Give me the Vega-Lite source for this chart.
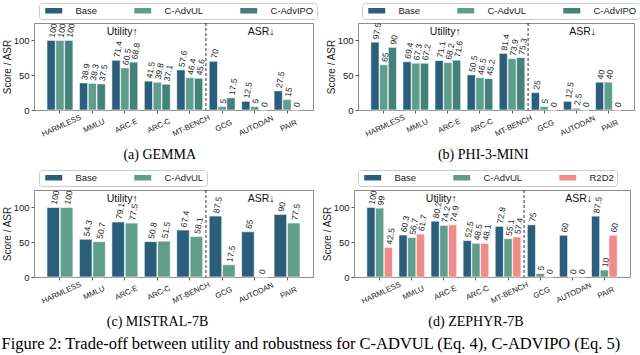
{
  "$schema": "https://vega.github.io/schema/vega-lite/v6.json",
  "padding": {"left": 1, "top": 2, "right": 0, "bottom": 0},
  "title": {"text": "Figure 2: Trade-off between utility and robustness for C-ADVUL (Eq. 4), C-ADVIPO (Eq. 5)", "orient": "bottom", "anchor": "start", "frame": "bounds", "font": "Liberation Serif", "fontSize": 16.5, "fontWeight": "normal", "color": "#000", "offset": 7},
  "datasets": {
    "gemma": [
      {"cat": "HARMLESS", "method": "Base", "v": 100}, {"cat": "HARMLESS", "method": "C-AdvUL", "v": 100}, {"cat": "HARMLESS", "method": "C-AdvIPO", "v": 100},
      {"cat": "MMLU", "method": "Base", "v": 38.9}, {"cat": "MMLU", "method": "C-AdvUL", "v": 38.3}, {"cat": "MMLU", "method": "C-AdvIPO", "v": 37.5},
      {"cat": "ARC-E", "method": "Base", "v": 71.4}, {"cat": "ARC-E", "method": "C-AdvUL", "v": 60.5}, {"cat": "ARC-E", "method": "C-AdvIPO", "v": 68.8},
      {"cat": "ARC-C", "method": "Base", "v": 41.5}, {"cat": "ARC-C", "method": "C-AdvUL", "v": 39.8}, {"cat": "ARC-C", "method": "C-AdvIPO", "v": 37.1},
      {"cat": "MT-BENCH", "method": "Base", "v": 57.6}, {"cat": "MT-BENCH", "method": "C-AdvUL", "v": 46.4}, {"cat": "MT-BENCH", "method": "C-AdvIPO", "v": 45.6},
      {"cat": "GCG", "method": "Base", "v": 70}, {"cat": "GCG", "method": "C-AdvUL", "v": 5}, {"cat": "GCG", "method": "C-AdvIPO", "v": 17.5},
      {"cat": "AUTODAN", "method": "Base", "v": 12.5}, {"cat": "AUTODAN", "method": "C-AdvUL", "v": 5}, {"cat": "AUTODAN", "method": "C-AdvIPO", "v": 0},
      {"cat": "PAIR", "method": "Base", "v": 27.5}, {"cat": "PAIR", "method": "C-AdvUL", "v": 15}, {"cat": "PAIR", "method": "C-AdvIPO", "v": 0}
    ],
    "phi": [
      {"cat": "HARMLESS", "method": "Base", "v": 97.5}, {"cat": "HARMLESS", "method": "C-AdvUL", "v": 65}, {"cat": "HARMLESS", "method": "C-AdvIPO", "v": 90},
      {"cat": "MMLU", "method": "Base", "v": 69.4}, {"cat": "MMLU", "method": "C-AdvUL", "v": 67.3}, {"cat": "MMLU", "method": "C-AdvIPO", "v": 67.2},
      {"cat": "ARC-E", "method": "Base", "v": 71.1}, {"cat": "ARC-E", "method": "C-AdvUL", "v": 68.2}, {"cat": "ARC-E", "method": "C-AdvIPO", "v": 71.6},
      {"cat": "ARC-C", "method": "Base", "v": 50.5}, {"cat": "ARC-C", "method": "C-AdvUL", "v": 46.5}, {"cat": "ARC-C", "method": "C-AdvIPO", "v": 45.2},
      {"cat": "MT-BENCH", "method": "Base", "v": 81.4}, {"cat": "MT-BENCH", "method": "C-AdvUL", "v": 73.9}, {"cat": "MT-BENCH", "method": "C-AdvIPO", "v": 75.3},
      {"cat": "GCG", "method": "Base", "v": 25}, {"cat": "GCG", "method": "C-AdvUL", "v": 5}, {"cat": "GCG", "method": "C-AdvIPO", "v": 0},
      {"cat": "AUTODAN", "method": "Base", "v": 12.5}, {"cat": "AUTODAN", "method": "C-AdvUL", "v": 2.5}, {"cat": "AUTODAN", "method": "C-AdvIPO", "v": 0},
      {"cat": "PAIR", "method": "Base", "v": 40}, {"cat": "PAIR", "method": "C-AdvUL", "v": 40}, {"cat": "PAIR", "method": "C-AdvIPO", "v": 0}
    ],
    "mistral": [
      {"cat": "HARMLESS", "method": "Base", "v": 100}, {"cat": "HARMLESS", "method": "C-AdvUL", "v": 100},
      {"cat": "MMLU", "method": "Base", "v": 54.3}, {"cat": "MMLU", "method": "C-AdvUL", "v": 50.7},
      {"cat": "ARC-E", "method": "Base", "v": 79.1}, {"cat": "ARC-E", "method": "C-AdvUL", "v": 77.5},
      {"cat": "ARC-C", "method": "Base", "v": 50.8}, {"cat": "ARC-C", "method": "C-AdvUL", "v": 51.5},
      {"cat": "MT-BENCH", "method": "Base", "v": 67.4}, {"cat": "MT-BENCH", "method": "C-AdvUL", "v": 58.1},
      {"cat": "GCG", "method": "Base", "v": 87.5}, {"cat": "GCG", "method": "C-AdvUL", "v": 17.5},
      {"cat": "AUTODAN", "method": "Base", "v": 65}, {"cat": "AUTODAN", "method": "C-AdvUL", "v": 0},
      {"cat": "PAIR", "method": "Base", "v": 90}, {"cat": "PAIR", "method": "C-AdvUL", "v": 77.5}
    ],
    "zephyr": [
      {"cat": "HARMLESS", "method": "Base", "v": 100}, {"cat": "HARMLESS", "method": "C-AdvUL", "v": 99}, {"cat": "HARMLESS", "method": "R2D2", "v": 42.5},
      {"cat": "MMLU", "method": "Base", "v": 60.3}, {"cat": "MMLU", "method": "C-AdvUL", "v": 56.7}, {"cat": "MMLU", "method": "R2D2", "v": 61.7},
      {"cat": "ARC-E", "method": "Base", "v": 80.2}, {"cat": "ARC-E", "method": "C-AdvUL", "v": 74.2}, {"cat": "ARC-E", "method": "R2D2", "v": 74.9},
      {"cat": "ARC-C", "method": "Base", "v": 52.5}, {"cat": "ARC-C", "method": "C-AdvUL", "v": 48.5}, {"cat": "ARC-C", "method": "R2D2", "v": 48.1},
      {"cat": "MT-BENCH", "method": "Base", "v": 72.8}, {"cat": "MT-BENCH", "method": "C-AdvUL", "v": 55.1}, {"cat": "MT-BENCH", "method": "R2D2", "v": 57.4},
      {"cat": "GCG", "method": "Base", "v": 75}, {"cat": "GCG", "method": "C-AdvUL", "v": 5}, {"cat": "GCG", "method": "R2D2", "v": 0},
      {"cat": "AUTODAN", "method": "Base", "v": 60}, {"cat": "AUTODAN", "method": "C-AdvUL", "v": 0}, {"cat": "AUTODAN", "method": "R2D2", "v": 0},
      {"cat": "PAIR", "method": "Base", "v": 87.5}, {"cat": "PAIR", "method": "C-AdvUL", "v": 10}, {"cat": "PAIR", "method": "R2D2", "v": 60}
    ]
  },
  "resolve": {"scale": {"color": "independent", "xOffset": "independent"}, "legend": {"color": "independent"}},
  "spacing": 6,
  "vconcat": [
    {
      "hconcat": [
        {
          "width": 279, "height": 87,
          "data": {"name": "gemma"},
          "title": {"text": "(a) GEMMA", "orient": "bottom", "anchor": "middle", "frame": "bounds", "font": "Liberation Serif", "fontSize": 14, "fontWeight": "normal", "color": "#000", "offset": 10},
          "layer": [
            {
              "mark": {"type": "bar", "stroke": "#ffffff", "strokeWidth": 0.6},
              "encoding": {
                "x": {"field": "cat", "type": "nominal", "sort": ["HARMLESS", "MMLU", "ARC-E", "ARC-C", "MT-BENCH", "GCG", "AUTODAN", "PAIR"], "title": null, "scale": {"paddingInner": 0.2, "paddingOuter": 0.4},
                  "axis": {"labelAngle": -25, "labelAlign": "center", "labelBaseline": "top", "labelFontSize": 7.7, "labelFont": "Liberation Sans", "labelColor": "#222", "tickSize": 3, "tickColor": "#555", "labelPadding": 9, "domain": false}},
                "xOffset": {"field": "method", "type": "nominal", "sort": ["Base", "C-AdvUL", "C-AdvIPO"], "scale": {"paddingInner": 0.06}},
                "y": {"field": "v", "type": "quantitative", "title": "Score / ASR", "scale": {"domain": [0, 125], "nice": false},
                  "axis": {"values": [0, 25, 50, 75, 100], "grid": false, "domain": false, "tickSize": 3, "tickColor": "#555", "labelFontSize": 9.5, "labelFont": "Liberation Sans", "labelColor": "#222", "labelPadding": 2, "titleFontSize": 10, "titleFont": "Liberation Sans", "titleFontWeight": "normal", "titleColor": "#222", "titleX": -22, "titleY": 43.5, "titleAngle": 270, "titleAlign": "center", "titleBaseline": "bottom"}},
                "color": {"field": "method", "type": "nominal", "scale": {"domain": ["Base", "C-AdvUL", "C-AdvIPO"], "range": ["#2b5e7b", "#5f9e8b", "#44817d"]},
                  "legend": {"orient": "none", "legendX": 5, "legendY": -20, "direction": "horizontal", "gridAlign": "none", "title": null, "symbolType": "M-2,-0.65H2V0.65H-2Z", "symbolSize": 72, "symbolOffset": 7, "symbolStrokeWidth": 0, "labelOffset": 17, "labelFontSize": 9.5, "labelFont": "Liberation Sans", "labelColor": "#222", "columnPadding": 33, "padding": 3, "strokeColor": "#cccccc", "fillColor": "#ffffff", "cornerRadius": 3}}
              }
            },
            {
              "mark": {"type": "text", "angle": 280, "align": "left", "baseline": "middle", "dx": 3, "fontSize": 8.5, "font": "Liberation Sans", "color": "#222"},
              "encoding": {
                "x": {"field": "cat", "type": "nominal", "sort": ["HARMLESS", "MMLU", "ARC-E", "ARC-C", "MT-BENCH", "GCG", "AUTODAN", "PAIR"]},
                "xOffset": {"field": "method", "type": "nominal", "sort": ["Base", "C-AdvUL", "C-AdvIPO"]},
                "y": {"field": "v", "type": "quantitative"},
                "text": {"field": "v", "type": "quantitative", "format": ""}
              }
            },
            {"data": {"values": [{}]}, "mark": {"type": "rule", "strokeDash": [3, 2], "color": "#333", "strokeWidth": 1}, "encoding": {"x": {"datum": "GCG", "bandPosition": -0.125}}},
            {"data": {"values": [{}]}, "mark": {"type": "text", "text": "Utility↑", "fontSize": 10.5, "font": "Liberation Sans", "color": "#111"}, "encoding": {"x": {"datum": "ARC-E", "bandPosition": 0.4}, "y": {"datum": 112}}},
            {"data": {"values": [{}]}, "mark": {"type": "text", "text": "ASR↓", "fontSize": 10.5, "font": "Liberation Sans", "color": "#111"}, "encoding": {"x": {"datum": "AUTODAN", "bandPosition": 0.75}, "y": {"datum": 112}}}
          ]
        },
        {
          "width": 276, "height": 87,
          "data": {"name": "phi"},
          "title": {"text": "(b) PHI-3-MINI", "orient": "bottom", "anchor": "middle", "frame": "bounds", "font": "Liberation Serif", "fontSize": 14, "fontWeight": "normal", "color": "#000", "offset": 10},
          "layer": [
            {
              "mark": {"type": "bar", "stroke": "#ffffff", "strokeWidth": 0.6},
              "encoding": {
                "x": {"field": "cat", "type": "nominal", "sort": ["HARMLESS", "MMLU", "ARC-E", "ARC-C", "MT-BENCH", "GCG", "AUTODAN", "PAIR"], "title": null, "scale": {"paddingInner": 0.2, "paddingOuter": 0.4},
                  "axis": {"labelAngle": -25, "labelAlign": "center", "labelBaseline": "top", "labelFontSize": 7.7, "labelFont": "Liberation Sans", "labelColor": "#222", "tickSize": 3, "tickColor": "#555", "labelPadding": 9, "domain": false}},
                "xOffset": {"field": "method", "type": "nominal", "sort": ["Base", "C-AdvUL", "C-AdvIPO"], "scale": {"paddingInner": 0.06}},
                "y": {"field": "v", "type": "quantitative", "title": "Score / ASR", "scale": {"domain": [0, 125], "nice": false},
                  "axis": {"values": [0, 25, 50, 75, 100], "grid": false, "domain": false, "tickSize": 3, "tickColor": "#555", "labelFontSize": 9.5, "labelFont": "Liberation Sans", "labelColor": "#222", "labelPadding": 2, "titleFontSize": 10, "titleFont": "Liberation Sans", "titleFontWeight": "normal", "titleColor": "#222", "titleX": -22, "titleY": 43.5, "titleAngle": 270, "titleAlign": "center", "titleBaseline": "bottom"}},
                "color": {"field": "method", "type": "nominal", "scale": {"domain": ["Base", "C-AdvUL", "C-AdvIPO"], "range": ["#2b5e7b", "#5f9e8b", "#44817d"]},
                  "legend": {"orient": "none", "legendX": 4, "legendY": -20, "direction": "horizontal", "gridAlign": "none", "title": null, "symbolType": "M-2,-0.65H2V0.65H-2Z", "symbolSize": 72, "symbolOffset": 7, "symbolStrokeWidth": 0, "labelOffset": 17, "labelFontSize": 9.5, "labelFont": "Liberation Sans", "labelColor": "#222", "columnPadding": 33, "padding": 3, "strokeColor": "#cccccc", "fillColor": "#ffffff", "cornerRadius": 3}}
              }
            },
            {
              "mark": {"type": "text", "angle": 280, "align": "left", "baseline": "middle", "dx": 3, "fontSize": 8.5, "font": "Liberation Sans", "color": "#222"},
              "encoding": {
                "x": {"field": "cat", "type": "nominal", "sort": ["HARMLESS", "MMLU", "ARC-E", "ARC-C", "MT-BENCH", "GCG", "AUTODAN", "PAIR"]},
                "xOffset": {"field": "method", "type": "nominal", "sort": ["Base", "C-AdvUL", "C-AdvIPO"]},
                "y": {"field": "v", "type": "quantitative"},
                "text": {"field": "v", "type": "quantitative", "format": ""}
              }
            },
            {"data": {"values": [{}]}, "mark": {"type": "rule", "strokeDash": [3, 2], "color": "#333", "strokeWidth": 1}, "encoding": {"x": {"datum": "GCG", "bandPosition": -0.125}}},
            {"data": {"values": [{}]}, "mark": {"type": "text", "text": "Utility↑", "fontSize": 10.5, "font": "Liberation Sans", "color": "#111"}, "encoding": {"x": {"datum": "ARC-E", "bandPosition": 0.4}, "y": {"datum": 112}}},
            {"data": {"values": [{}]}, "mark": {"type": "text", "text": "ASR↓", "fontSize": 10.5, "font": "Liberation Sans", "color": "#111"}, "encoding": {"x": {"datum": "AUTODAN", "bandPosition": 0.75}, "y": {"datum": 112}}}
          ]
        }
      ],
      "spacing": 7,
      "resolve": {"scale": {"color": "independent", "xOffset": "independent"}, "legend": {"color": "independent"}}
    },
    {
      "hconcat": [
        {
          "width": 279, "height": 87,
          "data": {"name": "mistral"},
          "title": {"text": "(c) MISTRAL-7B", "orient": "bottom", "anchor": "middle", "frame": "bounds", "font": "Liberation Serif", "fontSize": 14, "fontWeight": "normal", "color": "#000", "offset": 10},
          "layer": [
            {
              "mark": {"type": "bar", "stroke": "#ffffff", "strokeWidth": 0.6},
              "encoding": {
                "x": {"field": "cat", "type": "nominal", "sort": ["HARMLESS", "MMLU", "ARC-E", "ARC-C", "MT-BENCH", "GCG", "AUTODAN", "PAIR"], "title": null, "scale": {"paddingInner": 0.2, "paddingOuter": 0.4},
                  "axis": {"labelAngle": -25, "labelAlign": "center", "labelBaseline": "top", "labelFontSize": 7.7, "labelFont": "Liberation Sans", "labelColor": "#222", "tickSize": 3, "tickColor": "#555", "labelPadding": 9, "domain": false}},
                "xOffset": {"field": "method", "type": "nominal", "sort": ["Base", "C-AdvUL"], "scale": {"paddingInner": 0.06}},
                "y": {"field": "v", "type": "quantitative", "title": "Score / ASR", "scale": {"domain": [0, 125], "nice": false},
                  "axis": {"values": [0, 25, 50, 75, 100], "grid": false, "domain": false, "tickSize": 3, "tickColor": "#555", "labelFontSize": 9.5, "labelFont": "Liberation Sans", "labelColor": "#222", "labelPadding": 2, "titleFontSize": 10, "titleFont": "Liberation Sans", "titleFontWeight": "normal", "titleColor": "#222", "titleX": -22, "titleY": 43.5, "titleAngle": 270, "titleAlign": "center", "titleBaseline": "bottom"}},
                "color": {"field": "method", "type": "nominal", "scale": {"domain": ["Base", "C-AdvUL"], "range": ["#2b5e7b", "#5f9e8b"]},
                  "legend": {"orient": "none", "legendX": 5, "legendY": -20, "direction": "horizontal", "gridAlign": "none", "title": null, "symbolType": "M-2,-0.65H2V0.65H-2Z", "symbolSize": 72, "symbolOffset": 7, "symbolStrokeWidth": 0, "labelOffset": 17, "labelFontSize": 9.5, "labelFont": "Liberation Sans", "labelColor": "#222", "columnPadding": 33, "padding": 3, "strokeColor": "#cccccc", "fillColor": "#ffffff", "cornerRadius": 3}}
              }
            },
            {
              "mark": {"type": "text", "angle": 280, "align": "left", "baseline": "middle", "dx": 3, "fontSize": 8.5, "font": "Liberation Sans", "color": "#222"},
              "encoding": {
                "x": {"field": "cat", "type": "nominal", "sort": ["HARMLESS", "MMLU", "ARC-E", "ARC-C", "MT-BENCH", "GCG", "AUTODAN", "PAIR"]},
                "xOffset": {"field": "method", "type": "nominal", "sort": ["Base", "C-AdvUL"]},
                "y": {"field": "v", "type": "quantitative"},
                "text": {"field": "v", "type": "quantitative", "format": ""}
              }
            },
            {"data": {"values": [{}]}, "mark": {"type": "rule", "strokeDash": [3, 2], "color": "#333", "strokeWidth": 1}, "encoding": {"x": {"datum": "GCG", "bandPosition": -0.125}}},
            {"data": {"values": [{}]}, "mark": {"type": "text", "text": "Utility↑", "fontSize": 10.5, "font": "Liberation Sans", "color": "#111"}, "encoding": {"x": {"datum": "ARC-E", "bandPosition": 0.4}, "y": {"datum": 112}}},
            {"data": {"values": [{}]}, "mark": {"type": "text", "text": "ASR↓", "fontSize": 10.5, "font": "Liberation Sans", "color": "#111"}, "encoding": {"x": {"datum": "AUTODAN", "bandPosition": 0.75}, "y": {"datum": 112}}}
          ]
        },
        {
          "width": 276, "height": 87,
          "data": {"name": "zephyr"},
          "title": {"text": "(d) ZEPHYR-7B", "orient": "bottom", "anchor": "middle", "frame": "bounds", "font": "Liberation Serif", "fontSize": 14, "fontWeight": "normal", "color": "#000", "offset": 10},
          "layer": [
            {
              "mark": {"type": "bar", "stroke": "#ffffff", "strokeWidth": 0.6},
              "encoding": {
                "x": {"field": "cat", "type": "nominal", "sort": ["HARMLESS", "MMLU", "ARC-E", "ARC-C", "MT-BENCH", "GCG", "AUTODAN", "PAIR"], "title": null, "scale": {"paddingInner": 0.2, "paddingOuter": 0.4},
                  "axis": {"labelAngle": -25, "labelAlign": "center", "labelBaseline": "top", "labelFontSize": 7.7, "labelFont": "Liberation Sans", "labelColor": "#222", "tickSize": 3, "tickColor": "#555", "labelPadding": 9, "domain": false}},
                "xOffset": {"field": "method", "type": "nominal", "sort": ["Base", "C-AdvUL", "R2D2"], "scale": {"paddingInner": 0.06}},
                "y": {"field": "v", "type": "quantitative", "title": "Score / ASR", "scale": {"domain": [0, 125], "nice": false},
                  "axis": {"values": [0, 25, 50, 75, 100], "grid": false, "domain": false, "tickSize": 3, "tickColor": "#555", "labelFontSize": 9.5, "labelFont": "Liberation Sans", "labelColor": "#222", "labelPadding": 2, "titleFontSize": 10, "titleFont": "Liberation Sans", "titleFontWeight": "normal", "titleColor": "#222", "titleX": -22, "titleY": 43.5, "titleAngle": 270, "titleAlign": "center", "titleBaseline": "bottom"}},
                "color": {"field": "method", "type": "nominal", "scale": {"domain": ["Base", "C-AdvUL", "R2D2"], "range": ["#2b5e7b", "#5f9e8b", "#f18a8b"]},
                  "legend": {"orient": "none", "legendX": 4, "legendY": -20, "direction": "horizontal", "gridAlign": "none", "title": null, "symbolType": "M-2,-0.65H2V0.65H-2Z", "symbolSize": 72, "symbolOffset": 7, "symbolStrokeWidth": 0, "labelOffset": 17, "labelFontSize": 9.5, "labelFont": "Liberation Sans", "labelColor": "#222", "columnPadding": 33, "padding": 3, "strokeColor": "#cccccc", "fillColor": "#ffffff", "cornerRadius": 3}}
              }
            },
            {
              "mark": {"type": "text", "angle": 280, "align": "left", "baseline": "middle", "dx": 3, "fontSize": 8.5, "font": "Liberation Sans", "color": "#222"},
              "encoding": {
                "x": {"field": "cat", "type": "nominal", "sort": ["HARMLESS", "MMLU", "ARC-E", "ARC-C", "MT-BENCH", "GCG", "AUTODAN", "PAIR"]},
                "xOffset": {"field": "method", "type": "nominal", "sort": ["Base", "C-AdvUL", "R2D2"]},
                "y": {"field": "v", "type": "quantitative"},
                "text": {"field": "v", "type": "quantitative", "format": ""}
              }
            },
            {"data": {"values": [{}]}, "mark": {"type": "rule", "strokeDash": [3, 2], "color": "#333", "strokeWidth": 1}, "encoding": {"x": {"datum": "GCG", "bandPosition": -0.125}}},
            {"data": {"values": [{}]}, "mark": {"type": "text", "text": "Utility↑", "fontSize": 10.5, "font": "Liberation Sans", "color": "#111"}, "encoding": {"x": {"datum": "ARC-E", "bandPosition": 0.4}, "y": {"datum": 112}}},
            {"data": {"values": [{}]}, "mark": {"type": "text", "text": "ASR↓", "fontSize": 10.5, "font": "Liberation Sans", "color": "#111"}, "encoding": {"x": {"datum": "AUTODAN", "bandPosition": 0.75}, "y": {"datum": 112}}}
          ]
        }
      ],
      "spacing": 7,
      "resolve": {"scale": {"color": "independent", "xOffset": "independent"}, "legend": {"color": "independent"}}
    }
  ],
  "config": {
    "view": {"stroke": "#8c8c8c", "strokeWidth": 1},
    "background": "#ffffff"
  }
}
